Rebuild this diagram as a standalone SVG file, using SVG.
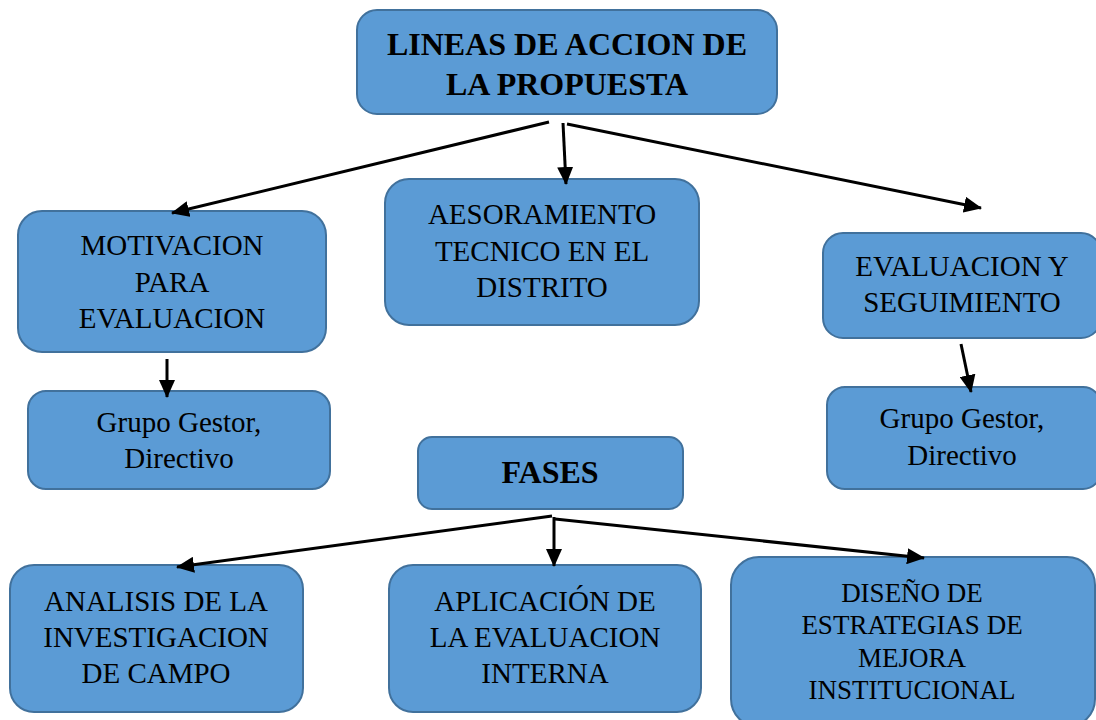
<svg xmlns="http://www.w3.org/2000/svg" width="1096" height="720" viewBox="0 0 1096 720">
<style>
.box{fill:#5B9BD5;stroke:#41719C;stroke-width:2}
.t{font-family:"Liberation Serif","Times New Roman",serif;font-size:29px;fill:#000;text-anchor:middle}
.b{font-weight:bold;font-size:32px}
.s{font-size:27px}
.c{stroke:#000;stroke-width:3;fill:none;marker-end:url(#ah)}
</style>
<defs>
<marker id="ah" markerUnits="userSpaceOnUse" markerWidth="18" markerHeight="16" viewBox="0 0 18 16" refX="17" refY="8" orient="auto">
<path d="M0,0 L18,8 L0,16 Z" fill="#000"/>
</marker>
</defs>
<rect width="1096" height="720" fill="#fff"/>
<g id="n-lineas">
<rect class="box" x="357" y="10" width="420" height="104" rx="20"/>
<text class="t b" x="567" y="55">LINEAS DE ACCION DE</text>
<text class="t b" x="567" y="95">LA PROPUESTA</text>
</g>
<g id="n-motivacion">
<rect class="box" x="18" y="211" width="308" height="141" rx="24"/>
<text class="t" x="172" y="255">MOTIVACION</text>
<text class="t" x="172" y="292">PARA</text>
<text class="t" x="172" y="328">EVALUACION</text>
</g>
<g id="n-aseso">
<rect class="box" x="385" y="179" width="314" height="146" rx="24"/>
<text class="t" x="542" y="224">AESORAMIENTO</text>
<text class="t" x="542" y="261">TECNICO EN EL</text>
<text class="t" x="542" y="297">DISTRITO</text>
</g>
<g id="n-evaluacion">
<rect class="box" x="823" y="233" width="278" height="105" rx="20"/>
<text class="t" x="962" y="276">EVALUACION Y</text>
<text class="t" x="962" y="312">SEGUIMIENTO</text>
</g>
<g id="n-grupo-left">
<rect class="box" x="28" y="391" width="302" height="98" rx="18"/>
<text class="t" x="179" y="432">Grupo Gestor,</text>
<text class="t" x="179" y="468">Directivo</text>
</g>
<g id="n-grupo-right">
<rect class="box" x="827" y="387" width="274" height="102" rx="18"/>
<text class="t" x="962" y="428">Grupo Gestor,</text>
<text class="t" x="962" y="465">Directivo</text>
</g>
<g id="n-fases">
<rect class="box" x="418" y="437" width="265" height="72" rx="14"/>
<text class="t b" x="550" y="483">FASES</text>
</g>
<g id="n-analisis">
<rect class="box" x="10" y="565" width="293" height="147" rx="24"/>
<text class="t" x="156" y="611">ANALISIS DE LA</text>
<text class="t" x="156" y="647">INVESTIGACION</text>
<text class="t" x="156" y="683">DE CAMPO</text>
</g>
<g id="n-aplicacion">
<rect class="box" x="389" y="565" width="312" height="147" rx="24"/>
<text class="t" x="545" y="611">APLICACIÓN DE</text>
<text class="t" x="545" y="647">LA EVALUACION</text>
<text class="t" x="545" y="683">INTERNA</text>
</g>
<g id="n-diseno">
<rect class="box" x="731" y="557" width="364" height="170" rx="28"/>
<text class="t s" x="912" y="602">DISEÑO DE</text>
<text class="t s" x="912" y="634">ESTRATEGIAS DE</text>
<text class="t s" x="912" y="667">MEJORA</text>
<text class="t s" x="912" y="699">INSTITUCIONAL</text>
</g>
<g id="connectors">
<line class="c" x1="549" y1="122" x2="172" y2="213"/>
<line class="c" x1="563" y1="123" x2="566" y2="184"/>
<line class="c" x1="567" y1="124" x2="981" y2="208"/>
<line class="c" x1="167" y1="359" x2="167" y2="397"/>
<line class="c" x1="961" y1="344" x2="971" y2="392"/>
<line class="c" x1="552" y1="516" x2="177" y2="567"/>
<line class="c" x1="554" y1="517" x2="554" y2="566"/>
<line class="c" x1="555" y1="519" x2="924" y2="558"/>
</g>
</svg>
